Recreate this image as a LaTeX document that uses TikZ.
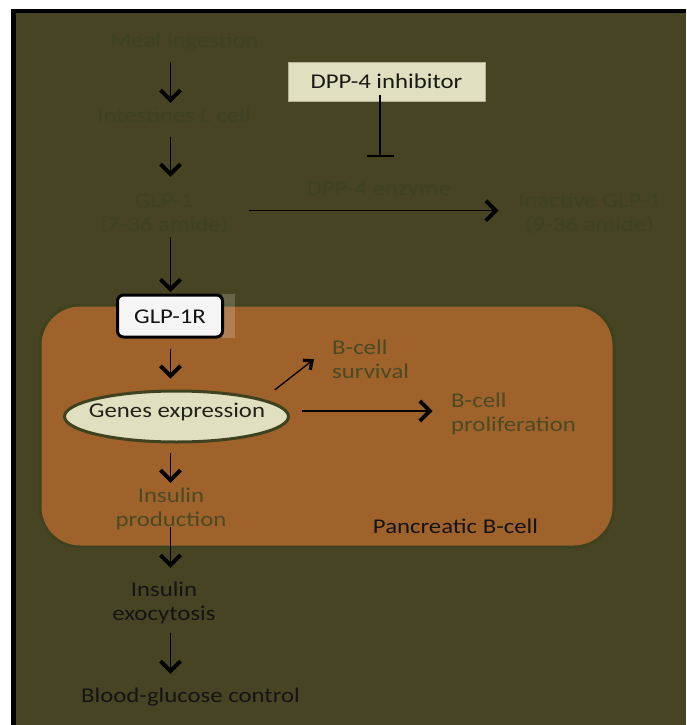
\documentclass[tikz,border=0pt]{standalone}
\usepackage{fontspec}
\setmainfont{Carlito}[FakeStretch=1.18]
\usetikzlibrary{arrows.meta,shapes.geometric,calc}

\definecolor{olivebg}{HTML}{474424}
\definecolor{fainttext}{HTML}{3D4322}
\definecolor{celltext}{HTML}{4A4A24}
\definecolor{cellfill}{HTML}{A0622B}
\definecolor{cellline}{HTML}{3F421F}
\definecolor{paleface}{HTML}{E0DFBF}
\definecolor{darktext}{HTML}{141414}

% one or more centred / left-aligned lines, baseline on the first line
\newcommand{\ctext}[1]{\begin{tabular}[t]{@{}c@{}}#1\end{tabular}}
\newcommand{\ltext}[1]{\begin{tabular}[t]{@{}l@{}}#1\end{tabular}}

\tikzset{
  txt/.style={inner sep=0pt, anchor=base},
  faint/.style={txt, text=fainttext},
  incell/.style={txt, text=celltext},
  dark/.style={txt, text=darktext},
  arr/.style={draw=black, line width=1.5pt,
    -{Straight Barb[length=10pt,width=20pt,line width=3.8pt]}},
  smallarr/.style={draw=black, line width=1.3pt,
    -{Straight Barb[length=7pt,width=12pt,line width=3.2pt]}},
  inh/.style={draw=black, line width=1.8pt, -{Bar[width=27pt,line width=1.8pt]}},
  cellbox/.style={draw=cellline, line width=3pt, fill=cellfill,
    rounded corners=40pt, minimum width=574pt, minimum height=242pt},
  inhbox/.style={fill=paleface, draw=paleface!80!black, line width=0.6pt,
    minimum width=197pt, minimum height=39pt, inner sep=0pt,
    text height=14pt, text depth=0pt, text=darktext!90!olivebg},
  rbox/.style={fill=white!96!black, draw=black, line width=3pt, rounded corners=6pt,
    minimum width=105pt, minimum height=42pt, inner sep=0pt,
    text height=14pt, text depth=0pt, text=darktext},
  genesell/.style={ellipse, fill=paleface, draw=cellline, line width=3pt,
    minimum width=224pt, minimum height=51pt, inner sep=0pt},
}

\begin{document}
\begin{tikzpicture}[x=1pt, y=-1pt, font=\fontsize{21}{24}\selectfont]
  \useasboundingbox (0,0) rectangle (686,725);
  \fill[white] (0,0) rectangle (686,725);
  \fill[olivebg] (11,9) rectangle (686,725);
  \fill[black] (11,9) rectangle (16,725);
  \fill[black] (11,9) rectangle (686,13);

  % pancreatic beta cell
  \node[cellbox] (cell) at (327,426) {};

  % vertical pathway axis
  \coordinate (spine) at (170.5,0);

  % text nodes
  \node[faint] (meal)     at (184.5,48)  {\ctext{Meal ingestion}};
  \node[faint] (intest)   at (174,122)   {\ctext{Intestines L cell}};
  \node[faint] (glp1)     at (164,207)   {\ctext{GLP-1\\(7-36 amide)}};
  \node[faint] (dpp4enz)  at (379,195)   {\ctext{DPP-4 enzyme}};
  \node[faint] (inactive) at (589.5,207) {\ctext{Inactive GLP-1\\(9-36 amide)}};

  \node[inhbox] (inhib) at (386.5,81.5) {DPP-4 inhibitor};

  \fill[white, opacity=0.18] (222,294) rectangle (235,338);
  \node[rbox] (glp1r) at (170,316) {GLP-1R};

  \node[genesell] (genes) at (176.5,416.5) {};
  \node[txt, text=darktext!70!olivebg] (genestxt) at (177,417) {\ctext{Genes expression}};

  \node[incell] (surv)    at (332,354) [anchor=base west] {\ltext{B-cell\\survival}};
  \node[incell] (prolif)  at (451,407) [anchor=base west] {\ltext{B-cell\\proliferation}};
  \node[incell] (insprod) at (171,502)   {\ctext{Insulin\\production}};
  \node[dark]   (pancr)   at (455.5,533) {\ctext{Pancreatic B-cell}};

  \node[dark] (insexo) at (164,596)   {\ctext{Insulin\\exocytosis}};
  \node[dark] (blood)  at (190.5,702) {\ctext{Blood-glucose control}};

  % main pathway
  \draw[arr, shorten <=6.8pt, shorten >=2.2pt]  (meal.south -| spine)   -- (intest.north -| spine);
  \draw[arr, shorten <=7.8pt, shorten >=13.2pt] (intest.south -| spine) -- (glp1.north -| spine);
  \draw[arr, shorten <=-1.2pt, shorten >=1.5pt] (glp1.south -| spine)   -- (glp1r.north -| spine);
  \draw[arr, shorten <=10pt, shorten >=11pt]    (glp1r.south -| spine)  -- (genes.north -| spine);
  \draw[arr, shorten <=9.5pt, shorten >=2.2pt]  (genes.south -| spine)  -- (insprod.north -| spine);
  \draw[arr, shorten <=-6.2pt, shorten >=11.2pt] (insprod.south -| spine) -- (insexo.north -| spine);
  \draw[arr, shorten <=5.8pt, shorten >=11.2pt] (insexo.south -| spine) -- (blood.north -| spine);

  % degradation by DPP-4
  \draw[arr, shorten <=20.7pt, shorten >=19.5pt]
    ([yshift=3.5pt]glp1.east) -- ([yshift=3.5pt]glp1.east -| inactive.west);
  \draw[inh, shorten <=-6pt, shorten >=21.2pt]
    ([xshift=-6.5pt]inhib.south) -- ([xshift=-6.5pt]inhib.south |- dpp4enz.north);

  % effects of gene expression
  \draw[smallarr] ([shift={(18pt,7.5pt)}]genes.north east) -- ([shift={(-18pt,2pt)}]surv.west);
  \draw[arr, shorten <=11.5pt, shorten >=18.5pt]
    ([yshift=5.5pt]genes.east) -- ([yshift=5.5pt]genes.east -| prolif.west);
\end{tikzpicture}
\end{document}
